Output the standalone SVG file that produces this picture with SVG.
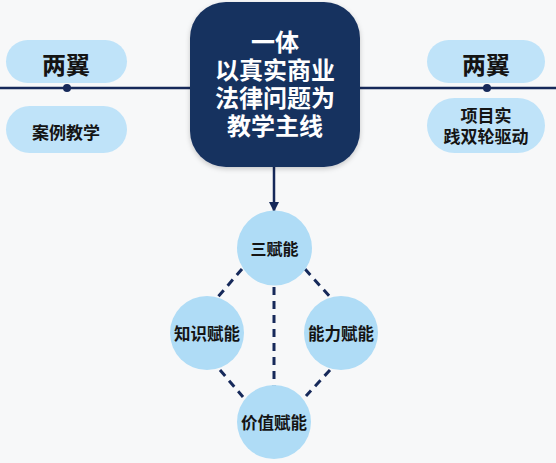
<svg xmlns="http://www.w3.org/2000/svg" width="556" height="463" viewBox="0 0 556 463">
<style>
.pill{fill:#bfe3f9}
.circ{fill:#afdcf6}
.t{font-family:"Noto Sans CJK SC","Noto Sans",sans-serif;font-weight:bold;fill:#141414;text-anchor:middle;dominant-baseline:central}
.c{font-family:"Liberation Sans","Noto Sans CJK SC",sans-serif}
.w{fill:#ffffff}
.line{stroke:#16295a;stroke-width:2.5;fill:none}
.dash{stroke:#16295a;stroke-width:3;fill:none;stroke-dasharray:8 6}
</style>
<defs>
<marker id="arr" viewBox="0 0 10 10" refX="9" refY="5" markerWidth="4" markerHeight="4" orient="auto" markerUnits="strokeWidth">
<path d="M0,0 L10,5 L0,10 z" fill="#16295a"/>
</marker>
<filter id="sh" x="-20%" y="-20%" width="140%" height="140%">
<feDropShadow dx="0" dy="2" stdDeviation="2.5" flood-color="#000" flood-opacity="0.2"/>
</filter>
</defs>
<rect width="556" height="463" fill="#f7f8f9"/>
<g id="connectors">
<line class="line" x1="0" y1="88" x2="192" y2="88"/>
<line class="line" x1="358" y1="88" x2="556" y2="88"/>
<circle cx="67" cy="88" r="4" fill="#16295a"/>
<circle cx="487" cy="88" r="4" fill="#16295a"/>
<line class="line" x1="274" y1="167" x2="274" y2="211" marker-end="url(#arr)"/>
<line class="dash" x1="242" y1="269" x2="217" y2="298"/>
<line class="dash" x1="305" y1="269" x2="331" y2="298"/>
<line class="dash" x1="274" y1="287" x2="274" y2="386"/>
<line class="dash" x1="220" y1="370" x2="243" y2="397"/>
<line class="dash" x1="330" y1="370" x2="306" y2="396"/>
</g>
<g id="center">
<rect x="190" y="2" width="170" height="165" rx="36" fill="#15305f" filter="url(#sh)"/>
<text class="t c w" font-size="24"><tspan x="275" y="42">一体</tspan><tspan x="275" y="70">以真实商业</tspan><tspan x="275" y="98">法律问题为</tspan><tspan x="275" y="126">教学主线</tspan></text>
</g>
<g id="left-wing">
<rect class="pill" x="6" y="40" width="121" height="43" rx="21.5"/>
<text class="t" x="66" y="63" font-size="24">两翼</text>
</g>
<g id="left-case">
<rect class="pill" x="6" y="106" width="121" height="47" rx="23.5"/>
<text class="t" x="66" y="131" font-size="17">案例教学</text>
</g>
<g id="right-wing">
<rect class="pill" x="427" y="40" width="118" height="43" rx="21.5"/>
<text class="t" x="486" y="63" font-size="24">两翼</text>
</g>
<g id="right-project">
<rect class="pill" x="427" y="98" width="118" height="55" rx="27.5"/>
<text class="t c" font-size="17"><tspan x="486" y="116">项目实</tspan><tspan x="486" y="137">践双轮驱动</tspan></text>
</g>
<g id="san">
<circle class="circ" cx="274.5" cy="248" r="37.5"/>
<text class="t" x="274.5" y="248" font-size="16">三赋能</text>
</g>
<g id="zhishi">
<circle class="circ" cx="207" cy="333" r="37"/>
<text class="t" x="207" y="333" font-size="16.5">知识赋能</text>
</g>
<g id="nengli">
<circle class="circ" cx="341" cy="333" r="37"/>
<text class="t" x="341" y="333" font-size="16.5">能力赋能</text>
</g>
<g id="jiazhi">
<circle class="circ" cx="274" cy="422" r="37"/>
<text class="t" x="274" y="422" font-size="16.5">价值赋能</text>
</g>
</svg>
